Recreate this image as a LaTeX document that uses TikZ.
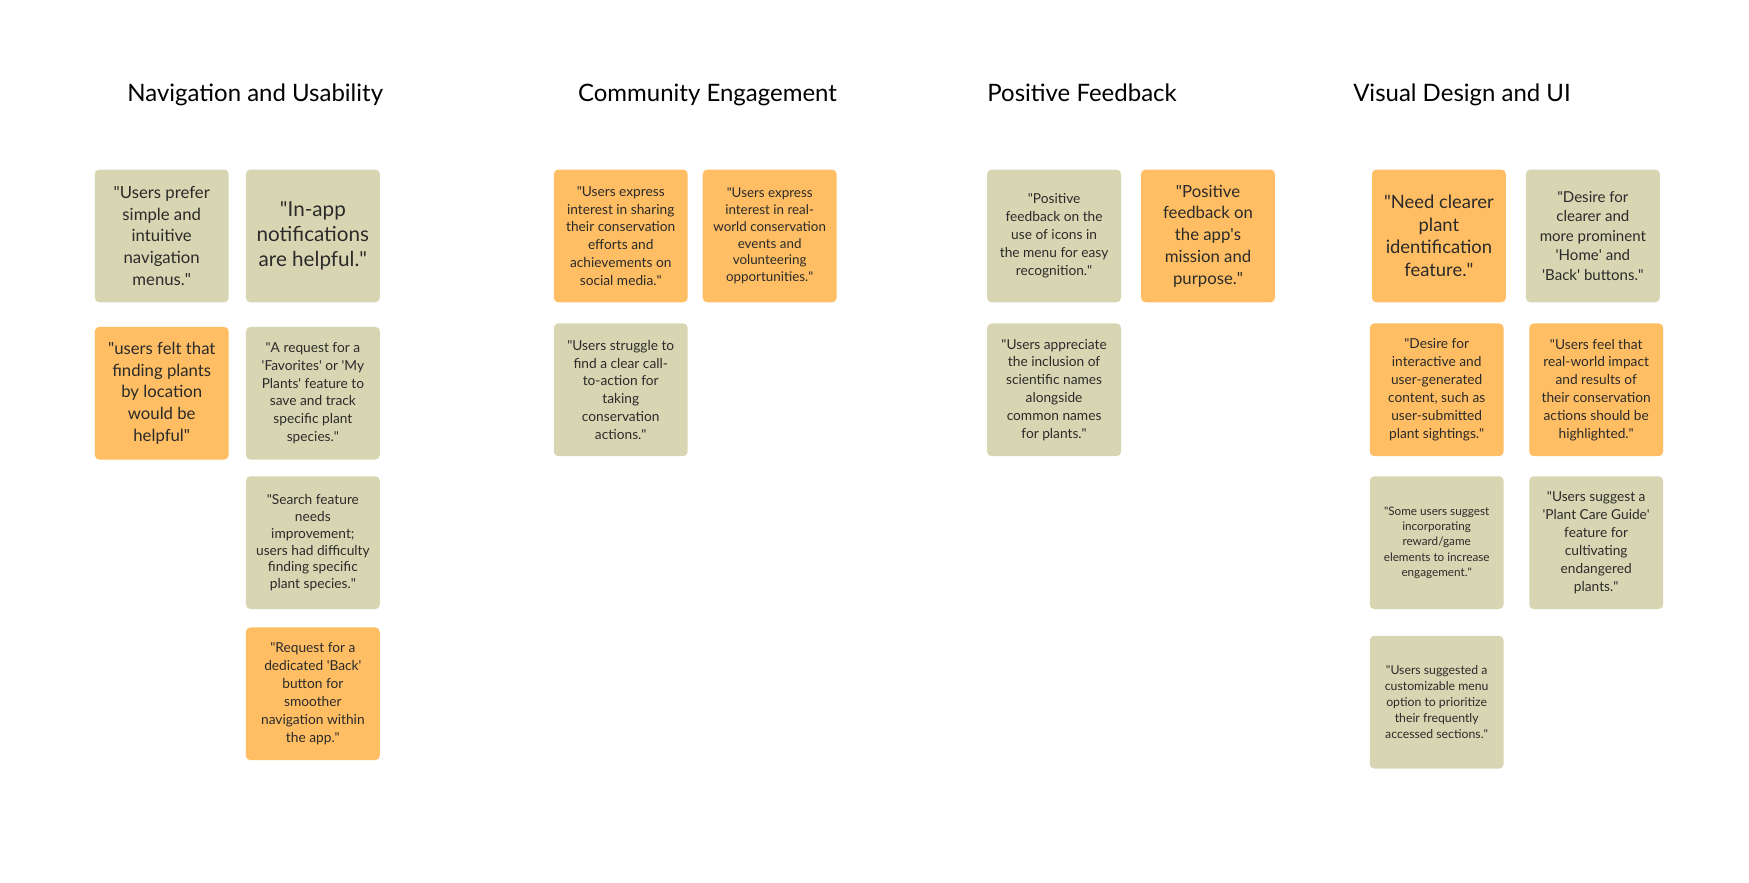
\documentclass[tikz,border=0pt]{standalone}
\usepackage{fontspec}
\setmainfont{Lato}
\newcommand\dq{\textquotedbl}
\newcommand\sq{\textquotesingle}
\definecolor{stgreen}{HTML}{D8D6B2}
\definecolor{storange}{HTML}{FFBE63}
\definecolor{sttext}{HTML}{2A2A2A}
\begin{document}
\begin{tikzpicture}[x=1pt,y=-1pt,
  sticky/.style={rounded corners=4pt, minimum width=120pt, minimum height=119pt, align=center, inner sep=0pt, text=sttext},
  gr/.style={sticky, fill=stgreen},
  orr/.style={sticky, fill=storange},
  fbig/.style={font=\fontsize{18.5}{22}\selectfont},
  fmed/.style={font=\fontsize{15}{19.5}\selectfont},
  fv/.style={font=\fontsize{16.5}{20.3}\selectfont},
  fmid/.style={font=\fontsize{13.5}{17.5}\selectfont},
  fsm/.style={font=\fontsize{12.3}{16}\selectfont},
  fxs/.style={font=\fontsize{10.5}{13.7}\selectfont},
  fxs2/.style={font=\fontsize{11}{14.4}\selectfont},
  title/.style={anchor=base west, inner sep=0pt, text=black, font=\fontsize{21.5}{25}\selectfont}]
\useasboundingbox[fill=white] (0,0) rectangle (1568,791);
% titles
\node[title] (tn) at (114,91) {Navigation and Usability};
\node[title] (tc) at (518,91) {Community Engagement};
\node[title] (tp) at (885,91) {Positive Feedback};
\node[title] (tv) at (1213,91) {Visual Design and UI};
% Navigation and Usability
\node[gr,fmed] (n1) at (145,211.5) {\dq Users prefer\\simple and\\intuitive\\navigation\\menus.\dq};
\node[gr,fbig] (n2) at (280.5,211.5) {\dq In-app\\notifications\\are helpful.\dq};
\node[orr,fmed] (n3) at (145,352.5) {\dq users felt that\\finding plants\\by location\\would be\\helpful\dq};
\node[gr,fsm] (n4) at (280.5,352.5) {\dq A request for a\\\sq Favorites\sq{} or \sq My\\Plants\sq{} feature to\\save and track\\specific plant\\species.\dq};
\node[gr,fsm,font=\fontsize{12.3}{15.2}\selectfont] (n5) at (280.5,486.5) {\dq Search feature\\needs\\improvement;\\users had difficulty\\finding specific\\plant species.\dq};
\node[orr,fsm] (n6) at (280.5,622) {\dq Request for a\\dedicated \sq Back\sq\\button for\\smoother\\navigation within\\the app.\dq};
% Community Engagement
\node[orr,fsm] (c1) at (556.5,211.5) {\dq Users express\\interest in sharing\\their conservation\\efforts and\\achievements on\\social media.\dq};
\node[orr,fsm,font=\fontsize{12}{15.2}\selectfont] (c2) at (690,211.5) {\dq Users express\\interest in real-\\world conservation\\events and\\volunteering\\opportunities.\dq};
\node[gr,fsm] (c3) at (556.5,349.5) {\dq Users struggle to\\find a clear call-\\to-action for\\taking\\conservation\\actions.\dq};
% Positive Feedback
\node[gr,fsm] (p1) at (945,211.5) {\dq Positive\\feedback on the\\use of icons in\\the menu for easy\\recognition.\dq};
\node[orr,fmed] (p2) at (1083,211.5) {\dq Positive\\feedback on\\the app\sq s\\mission and\\purpose.\dq};
\node[gr,fsm] (p3) at (945,349.5) {\dq Users appreciate\\the inclusion of\\scientific names\\alongside\\common names\\for plants.\dq};
% Visual Design and UI
\node[orr,fv] (v1) at (1290,211.5) {\dq Need clearer\\plant\\identification\\feature.\dq};
\node[gr,fmid] (v2) at (1428,211.5) {\dq Desire for\\clearer and\\more prominent\\\sq Home\sq{} and\\\sq Back\sq{} buttons.\dq};
\node[orr,fsm] (v3) at (1288,349.5) {\dq Desire for\\interactive and\\user-generated\\content, such as\\user-submitted\\plant sightings.\dq};
\node[orr,fsm] (v4) at (1431,349.5) {\dq Users feel that\\real-world impact\\and results of\\their conservation\\actions should be\\highlighted.\dq};
\node[gr,fxs] (v5) at (1288,486.5) {\dq Some users suggest\\incorporating\\reward/game\\elements to increase\\engagement.\dq};
\node[gr,fsm] (v6) at (1431,486.5) {\dq Users suggest a\\\sq Plant Care Guide\sq\\feature for\\cultivating\\endangered\\plants.\dq};
\node[gr,fxs2] (v7) at (1288,629.5) {\dq Users suggested a\\customizable menu\\option to prioritize\\their frequently\\accessed sections.\dq};
\end{tikzpicture}
\end{document}
